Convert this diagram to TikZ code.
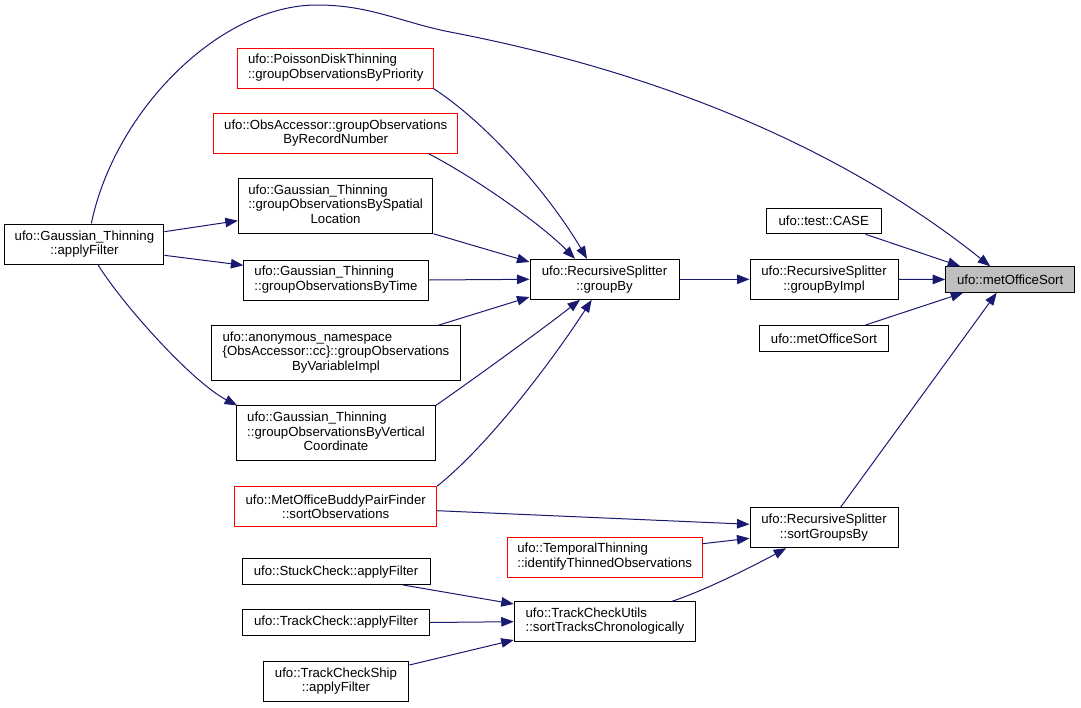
\documentclass[tikz,border=0pt]{standalone}
\usepackage{fontspec}
\setmainfont{Liberation Sans}
\usetikzlibrary{arrows.meta}
\definecolor{edgeblue}{HTML}{191970}
\definecolor{grey75}{HTML}{BFBFBF}
\tikzset{fn/.style={
    draw=black,
    fill=white,
    rectangle,
    line width=1pt,
    inner sep=1pt,
    font=\fontsize{13.2}{14.7}\selectfont},
  fnred/.style={fn, draw=red},
  fnmain/.style={fn, fill=grey75},
  lines1/.style={minimum height=25.5pt},
  lines2/.style={minimum height=40pt},
  lines3/.style={minimum height=54.5pt},
  call/.style={-{Triangle[length=12.5pt,width=9.5pt]},
    edgeblue,
    line width=1pt}}
\newcommand{\leftlines}[1]{\begin{tabular}{@{}l@{}}#1\end{tabular}}
\newcommand{\midline}[1]{\multicolumn{1}{@{}c@{}}{#1}}

\begin{document}
\begin{tikzpicture}[x=1pt, y=-1pt]

\useasboundingbox (0,0) rectangle (1081,707);

\node[fnmain,
  lines1,
  minimum width=129pt] (mos) at (1010.2,279.5) {ufo::metOfficeSort};

\node[fn,
  lines2,
  minimum width=148pt,
  align=center] (gbi) at (824,279.3) {ufo::RecursiveSplitter\\::groupByImpl};

\node[fn,
  lines2,
  minimum width=148pt,
  align=center] (sgb) at (824,527.7) {ufo::RecursiveSplitter\\::sortGroupsBy};

\node[fn,
  lines2,
  minimum width=149pt,
  align=center] (gb) at (604.5,279.3) {ufo::RecursiveSplitter\\::groupBy};

\node[fn,
  lines1,
  minimum width=115pt] (tc) at (823.7,221) {ufo::test::CASE};

\node[fn,
  lines1,
  minimum width=129pt] (umos) at (824,338.3) {ufo::metOfficeSort};

\node[fnred,
  lines2,
  minimum width=196.3pt] (pdt) at (335.7,68)
  {\leftlines{ufo::PoissonDiskThinning\\::groupObservationsByPriority}};

\node[fnred,
  lines2,
  minimum width=244.5pt,
  align=center] (oar) at (335.7,133)
  {ufo::ObsAccessor::groupObservations\\ByRecordNumber};

\node[fn,
  lines3,
  minimum width=194.6pt] (gts) at (335.6,206)
  {\leftlines{ufo::Gaussian\_Thinning\\::groupObservationsBySpatial\\\midline{Location}}};

\node[fn,
  lines2,
  minimum width=159pt,
  align=center] (gtaf) at (84.4,244) {ufo::Gaussian\_Thinning\\::applyFilter};

\node[fn,
  lines2,
  minimum width=184.2pt] (gtt) at (336,280)
  {\leftlines{ufo::Gaussian\_Thinning\\::groupObservationsByTime}};

\node[fn,
  lines3,
  minimum width=248.2pt] (anv) at (336,353)
  {\leftlines{ufo::anonymous\_namespace\\\{ObsAccessor::cc\}::groupObservations\\\midline{ByVariableImpl}}};

\node[fn,
  lines3,
  minimum width=198.7pt] (gtv) at (336,433.2)
  {\leftlines{ufo::Gaussian\_Thinning\\::groupObservationsByVertical\\\midline{Coordinate}}};

\node[fnred,
  lines2,
  minimum width=201.8pt,
  align=center] (mob) at (335.7,506.7)
  {ufo::MetOfficeBuddyPairFinder\\::sortObservations};

\node[fnred,
  lines2,
  minimum width=195pt] (tti) at (604.7,557)
  {\leftlines{ufo::TemporalThinning\\::identifyThinnedObservations}};

\node[fn,
  lines2,
  minimum width=181.5pt] (tcu) at (605,621.7)
  {\leftlines{ufo::TrackCheckUtils\\::sortTracksChronologically}};

\node[fn,
  lines1,
  minimum width=188pt] (sc) at (336,571.7) {ufo::StuckCheck::applyFilter};

\node[fn,
  lines1,
  minimum width=186.6pt] (tck) at (336,622.5) {ufo::TrackCheck::applyFilter};

\node[fn,
  lines2,
  minimum width=145.7pt,
  align=center] (tcs) at (336,681) {ufo::TrackCheckShip\\::applyFilter};

\draw[call] ([yshift=12.3pt]gtaf.east) -- ([yshift=-14.7pt]gts.west);
\draw[call] ([yshift=-11.3pt]gtaf.east) -- ([yshift=14.7pt]gtt.west);
\draw[call] ([xshift=13.4pt]gtaf.south) .. controls (124,306.5) and (193,382.5) .. ([xshift=1pt]gtv.north west);
\draw[call] ([xshift=6.9pt]gtaf.north) .. controls (115,110) and (220,5) .. (317,5)
  .. controls (370,5) and (400,22) .. (450,32)
  .. controls (700,80) and (870,170) .. ([xshift=-20pt]mos.north);

\draw[call] ([xshift=41.7pt]tc.south) -- ([xshift=-50pt]mos.north);
\draw[call] (gbi.east) -- (mos.west);
\draw[call] ([xshift=41.4pt]umos.north) -- ([xshift=-47pt]mos.south);
\draw[call] ([xshift=16.6pt]sgb.north) -- ([xshift=-13.5pt]mos.south);

\draw[call] (gb.east) -- (gbi.west);
\draw[call] ([xshift=-1pt]pdt.south east) .. controls (491,126) and (552,199) .. ([xshift=-17.5pt]gb.north);
\draw[call] ([xshift=92.5pt]oar.south) .. controls (472,176) and (540,223) .. ([xshift=-29.5pt]gb.north);
\draw[call] (gts.south east) -- ([yshift=17.3pt]gb.west);
\draw[call] (gtt.east) -- (gb.west);
\draw[call] ([xshift=102.3pt]anv.north) -- ([yshift=-17.7pt]gb.west);
\draw[call] (gtv.north east) .. controls (476.5,377) and (541,330.3) .. ([xshift=-24.5pt]gb.south);
\draw[call] (mob.north east) .. controls (490,444) and (554,358) .. ([xshift=-12.8pt]gb.south);

\draw[call] ([yshift=-4pt]mob.east) -- ([yshift=3.4pt]sgb.west);
\draw[call] ([yshift=13.3pt]tti.east) -- ([yshift=-10.6pt]sgb.west);
\draw[call] ([xshift=67.3pt]tcu.north) .. controls (710,588.5) and (760,562.4) .. ([xshift=-37.8pt]sgb.south);

\draw[call] ([xshift=66.9pt]sc.south) -- ([yshift=17.7pt]tcu.west);
\draw[call] (tck.east) -- (tcu.west);
\draw[call] ([yshift=16pt]tcs.east) -- ([yshift=-18.3pt]tcu.west);

\end{tikzpicture}
\end{document}
